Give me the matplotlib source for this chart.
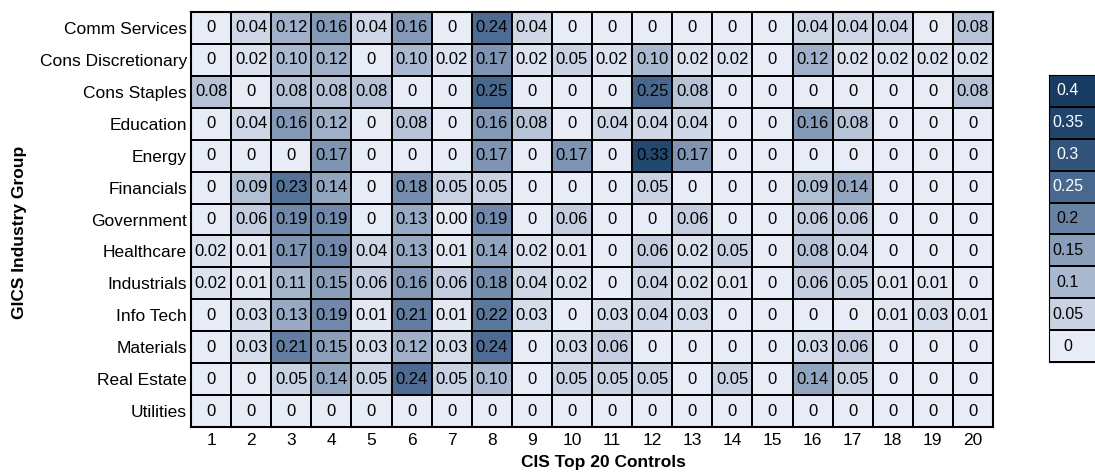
import numpy as np
import matplotlib
matplotlib.use("Agg")
import matplotlib.pyplot as plt
from matplotlib.colors import LinearSegmentedColormap

plt.rcParams['font.family'] = ['Liberation Sans', 'DejaVu Sans']

industries = ["Comm Services", "Cons Discretionary", "Cons Staples", "Education",
              "Energy", "Financials", "Government", "Healthcare", "Industrials",
              "Info Tech", "Materials", "Real Estate", "Utilities"]
controls = [str(i) for i in range(1, 21)]

comm_services = [0, 0.04, 0.12, 0.16, 0.04, 0.16, 0, 0.24, 0.04, 0, 0, 0, 0, 0, 0, 0.04, 0.04, 0.04, 0, 0.08]
cons_discretionary = [0, 0.02, 0.10, 0.12, 0, 0.10, 0.02, 0.17, 0.02, 0.05, 0.02, 0.10, 0.02, 0.02, 0, 0.12, 0.02, 0.02, 0.02, 0.02]
cons_staples = [0.08, 0, 0.08, 0.08, 0.08, 0, 0, 0.25, 0, 0, 0, 0.25, 0.08, 0, 0, 0, 0, 0, 0, 0.08]
education = [0, 0.04, 0.16, 0.12, 0, 0.08, 0, 0.16, 0.08, 0, 0.04, 0.04, 0.04, 0, 0, 0.16, 0.08, 0, 0, 0]
energy = [0, 0, 0, 0.17, 0, 0, 0, 0.17, 0, 0.17, 0, 0.33, 0.17, 0, 0, 0, 0, 0, 0, 0]
financials = [0, 0.09, 0.23, 0.14, 0, 0.18, 0.05, 0.05, 0, 0, 0, 0.05, 0, 0, 0, 0.09, 0.14, 0, 0, 0]
government = [0, 0.06, 0.19, 0.19, 0, 0.13, 0.004, 0.19, 0, 0.06, 0, 0, 0.06, 0, 0, 0.06, 0.06, 0, 0, 0]
healthcare = [0.02, 0.01, 0.17, 0.19, 0.04, 0.13, 0.01, 0.14, 0.02, 0.01, 0, 0.06, 0.02, 0.05, 0, 0.08, 0.04, 0, 0, 0]
industrials = [0.02, 0.01, 0.11, 0.15, 0.06, 0.16, 0.06, 0.18, 0.04, 0.02, 0, 0.04, 0.02, 0.01, 0, 0.06, 0.05, 0.01, 0.01, 0]
info_tech = [0, 0.03, 0.13, 0.19, 0.01, 0.21, 0.01, 0.22, 0.03, 0, 0.03, 0.04, 0.03, 0, 0, 0, 0, 0.01, 0.03, 0.01]
materials = [0, 0.03, 0.21, 0.15, 0.03, 0.12, 0.03, 0.24, 0, 0.03, 0.06, 0, 0, 0, 0, 0.03, 0.06, 0, 0, 0]
real_estate = [0, 0, 0.05, 0.14, 0.05, 0.24, 0.05, 0.10, 0, 0.05, 0.05, 0.05, 0, 0.05, 0, 0.14, 0.05, 0, 0, 0]
utilities = [0] * 20

legend_levels = [0.4, 0.35, 0.3, 0.25, 0.2, 0.15, 0.1, 0.05, 0]
legend_labels = ["0.4", "0.35", "0.3", "0.25", "0.2", "0.15", "0.1", "0.05", "0"]

data = np.array([comm_services, cons_discretionary, cons_staples, education, energy,
                 financials, government, healthcare, industrials, info_tech,
                 materials, real_estate, utilities])

# colour ramp picked off the reference cells
cmap = LinearSegmentedColormap.from_list("blues", [
    (0.0, "#e8ecf6"), (0.1, "#cfd7e6"), (0.2, "#b6c3d7"), (0.3, "#9fb0c8"),
    (0.4, "#8499b6"), (0.6, "#4e6c93"), (0.825, "#23486f"), (1.0, "#183b64")])
vmax = 0.4

W, H = 1095, 472
fig = plt.figure(figsize=(W / 100, H / 100), dpi=100)

ax = fig.add_axes([191 / W, 1 - 427 / H, 802 / W, 415 / H])
ax.pcolormesh(data, cmap=cmap, vmin=0, vmax=vmax, edgecolors="black", linewidth=1.4)
ax.set_xlim(0, 20)
ax.set_ylim(13, 0)
for i in range(data.shape[0]):
    for j in range(data.shape[1]):
        v = data[i, j]
        s = "0" if v == 0 else f"{v:.2f}"
        ax.text(j + 0.5, i + 0.5, s, ha="center", va="center", fontsize=12, color="black")
ax.set_xticks(np.arange(20) + 0.5)
ax.set_xticklabels(controls, fontsize=12.5)
ax.set_yticks(np.arange(13) + 0.5)
ax.set_yticklabels(industries, fontsize=12.5)
ax.tick_params(length=0, pad=3)
ax.tick_params(axis="x", pad=4)
for sp in ax.spines.values():
    sp.set_linewidth(1.5)

fig.text(603 / W, 1 - 463 / H, "CIS Top 20 Controls", ha="center", va="center",
         fontsize=12.5, fontweight="bold")
fig.text(20 / W, 1 - 232 / H, "GICS Industry Group", ha="center", va="center",
         rotation=90, fontsize=12.5, fontweight="bold")

# discrete legend boxes on the right, running off the edge
lax = fig.add_axes([1049 / W, 1 - 362 / H, 70 / W, 287 / H])
lax.pcolormesh(np.array(legend_levels).reshape(-1, 1), cmap=cmap, vmin=0, vmax=vmax,
               edgecolors="black", linewidth=1.2)
lax.set_xlim(0, 1)
lax.set_ylim(len(legend_levels), 0)
for k, (lv, lab) in enumerate(zip(legend_levels, legend_labels)):
    lax.text(0.27, k + 0.5, lab, ha="center", va="center", fontsize=11.5,
             color="white" if lv >= 0.25 else "black")
lax.set_xticks([])
lax.set_yticks([])

fig.savefig("out.png", dpi=100)
